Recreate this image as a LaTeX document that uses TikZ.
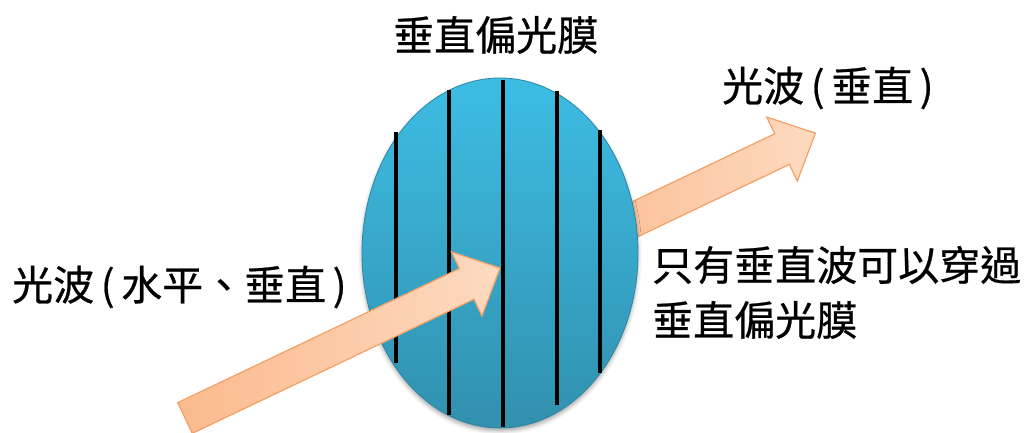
\documentclass[tikz,border=0pt]{standalone}
\usepackage{fontspec}
\newfontfamily\cjkfont[FakeBold=0.6]{Noto Sans CJK TC}
\usetikzlibrary{shapes.geometric,shadows.blur}

\definecolor{filmtop}{HTML}{3DBDE4}
\definecolor{filmbottom}{HTML}{3190AE}
\definecolor{filmedge}{HTML}{2B86A3}
\definecolor{arrowdeep}{HTML}{FBBA8E}
\definecolor{arrowpale}{HTML}{FDDAC0}
\definecolor{arrowedge}{HTML}{F4A065}

\tikzset{
  label text/.style={font=\cjkfont\fontsize{41}{48}\selectfont, inner sep=0pt, anchor=west},
  block arrow/.style={left color=arrowdeep, right color=arrowpale, draw=arrowedge, line width=1.2pt, line join=miter},
  slit/.style={line width=4pt, black},
}

% wide parentheses for the labels
\newcommand{\lparen}{\makebox[27pt][c]{(}}
\newcommand{\rparen}{\makebox[27pt][c]{)}}

% block arrow drawn from its tail centre along the x axis of a rotated scope
\newcommand{\blockarrow}[1]{%
  \path[block arrow] (0,17) -- (#1-37,17) -- (#1-37,35.5) -- (#1,0)
    -- (#1-37,-35.5) -- (#1-37,-17) -- (0,-17) -- cycle;}

\begin{document}
\begin{tikzpicture}[x=1pt,y=1pt]
  \useasboundingbox (0,0) rectangle (1031,432);

  % outgoing beam, partly hidden behind the film
  \begin{scope}[shift={(560,177)},rotate=25.5]
    \blockarrow{283}
  \end{scope}

  % polarizing film
  \node[ellipse, minimum width=276pt, minimum height=350pt, inner sep=0pt,
        top color=filmtop, bottom color=filmbottom, draw=filmedge, line width=0.8pt,
        blur shadow={shadow xshift=0pt, shadow yshift=-3pt, shadow blur radius=4pt, shadow opacity=35}]
        (film) at (500,179) {};

  % vertical slits of the film
  \draw[slit] (396,300) -- (396,69);
  \draw[slit] (449,342) -- (449,17);
  \draw[slit] (503,352) -- (503,5);
  \draw[slit] (557,341) -- (557,27);
  \draw[slit] (600,302) -- (600,59);

  % incoming beam
  \begin{scope}[shift={(185,14)},rotate=25.46]
    \blockarrow{349}
  \end{scope}

  % labels
  \node[label text] (title) at (393,397) {垂直偏光膜};
  \node[label text] (outlabel) at (722,344) {光波\lparen 垂直\rparen};
  \node[label text] (inlabel) at (12,145) {光波\lparen 水平、垂直\rparen};
  \node[label text] (note1) at (652,167) {只有垂直波可以穿過};
  \node[label text] (note2) at (652,112) {垂直偏光膜};
\end{tikzpicture}
\end{document}
